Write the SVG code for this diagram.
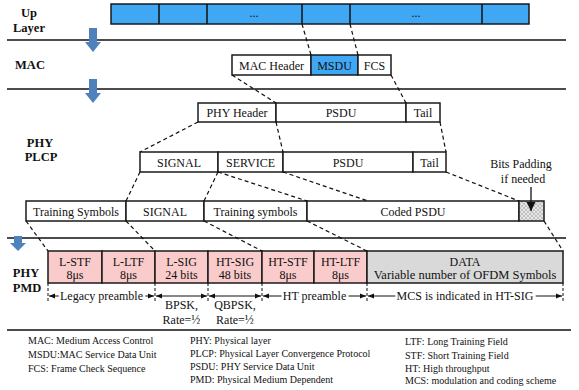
<svg xmlns="http://www.w3.org/2000/svg" width="579" height="390" viewBox="0 0 579 390">
<defs>
<style>
text{font-family:"Liberation Serif","Times New Roman",Tinos,"DejaVu Serif",serif}
.box{fill:#fff;stroke:#1a1a1a;stroke-width:1.5}
.blue{fill:#3fa7f3}
.pink{fill:#f9cbcb}
.grey{fill:#d9d9d9}
.t{font-size:12px;fill:#111;text-anchor:middle}
.h{font-size:12.5px;font-weight:bold;fill:#111;text-anchor:middle}
.lg{font-size:10px;fill:#111}
.dash{stroke:#111;stroke-width:1.2;stroke-dasharray:4 3;fill:none}
.sep{stroke:#111;stroke-width:1.5}
.arr{fill:#4f81bd}
.dim{stroke:#111;stroke-width:1;marker-start:url(#ah);marker-end:url(#ah)}
.tick{stroke:#111;stroke-width:1;stroke-dasharray:3 2}
.lab{paint-order:stroke;stroke:#fff;stroke-width:5px}
</style>
<marker id="ah" viewBox="0 0 6 6" refX="6" refY="3" markerWidth="6" markerHeight="6" orient="auto-start-reverse"><path d="M0,0.5 L6,3 L0,5.5 z" fill="#111"/></marker>
<marker id="ah2" viewBox="0 0 8 8" refX="8" refY="4" markerWidth="7" markerHeight="7" orient="auto"><path d="M0,0 L8,4 L0,8 z" fill="#111"/></marker>
<pattern id="hatch" width="4" height="4" patternUnits="userSpaceOnUse">
<rect width="4" height="4" fill="#e6e6e6"/>
<path d="M0,0 L4,4 M4,0 L0,4" stroke="#a8a8a8" stroke-width="0.6"/>
</pattern>
</defs>

<g id="separators">
<line class="sep" x1="7" y1="40" x2="566" y2="40"/>
<line class="sep" x1="7" y1="89" x2="566" y2="89"/>
<line class="sep" x1="7" y1="238" x2="566" y2="238"/>
<line class="sep" x1="7" y1="330" x2="571" y2="330"/>
</g>

<g id="layer-labels">
<text class="h" x="29" y="17">Up</text>
<text class="h" x="29" y="32">Layer</text>
<text class="h" x="30" y="69">MAC</text>
<text class="h" x="40" y="147">PHY</text>
<text class="h" x="41" y="161">PLCP</text>
<text class="h" x="26" y="277">PHY</text>
<text class="h" x="27" y="292">PMD</text>
</g>

<g id="down-arrows">
<path class="arr" d="M89,28 H97 V42 H101 L93,52 L85,42 H89 Z"/>
<path class="arr" d="M89,79 H97 V93 H101 L93,103 L85,93 H89 Z"/>
<path class="arr" d="M14,236 H22 V243 H26 L18,251 L10,243 H14 Z"/>
</g>

<g id="up-layer">
<rect class="box blue" x="111" y="4" width="418" height="20"/>
<line class="sep" x1="159" y1="4" x2="159" y2="24"/>
<line class="sep" x1="207" y1="4" x2="207" y2="24"/>
<line class="sep" x1="302" y1="4" x2="302" y2="24"/>
<line class="sep" x1="350" y1="4" x2="350" y2="24"/>
<line class="sep" x1="482" y1="4" x2="482" y2="24"/>
<text class="t" x="254" y="17">...</text>
<text class="t" x="416" y="17">...</text>
</g>

<g id="mac-frame">
<rect class="box" x="232" y="55" width="79" height="20"/>
<rect class="box blue" x="311" y="55" width="47" height="20"/>
<rect class="box" x="358" y="55" width="33" height="20"/>
<text class="t" x="271.5" y="69.5">MAC Header</text>
<text class="t" x="334.5" y="69.5">MSDU</text>
<text class="t" x="374.5" y="69.5">FCS</text>
</g>

<g id="phy-frame">
<rect class="box" x="198" y="103" width="78" height="19"/>
<rect class="box" x="276" y="103" width="130" height="19"/>
<rect class="box" x="406" y="103" width="34" height="19"/>
<text class="t" x="237" y="117">PHY Header</text>
<text class="t" x="341" y="117">PSDU</text>
<text class="t" x="423" y="117">Tail</text>
</g>

<g id="plcp-frame">
<rect class="box" x="140" y="152" width="78" height="20"/>
<rect class="box" x="218" y="152" width="65" height="20"/>
<rect class="box" x="283" y="152" width="130" height="20"/>
<rect class="box" x="413" y="152" width="33" height="20"/>
<text class="t" x="179" y="166.5">SIGNAL</text>
<text class="t" x="250.5" y="166.5">SERVICE</text>
<text class="t" x="348" y="166.5">PSDU</text>
<text class="t" x="429.5" y="166.5">Tail</text>
</g>

<g id="coded-frame">
<rect class="box" x="26" y="201" width="100" height="20"/>
<rect class="box" x="126" y="201" width="78" height="20"/>
<rect class="box" x="204" y="201" width="103" height="20"/>
<rect class="box" x="307" y="201" width="212" height="20"/>
<rect class="box" x="519" y="201" width="25" height="20" style="fill:url(#hatch)"/>
<text class="t" x="76" y="215.5">Training Symbols</text>
<text class="t" x="165" y="215.5">SIGNAL</text>
<text class="t" x="255.5" y="215.5">Training symbols</text>
<text class="t" x="413" y="215.5">Coded  PSDU</text>
</g>

<g id="bits-padding">
<text class="t" x="521" y="168">Bits Padding</text>
<text class="t" x="523" y="183">if needed</text>
<line x1="531" y1="187" x2="531" y2="211" stroke="#111" stroke-width="1.3" marker-end="url(#ah2)"/>
</g>

<g id="pmd-frame">
<rect class="box pink" x="48" y="251" width="54" height="32"/>
<rect class="box pink" x="102" y="251" width="53" height="32"/>
<rect class="box pink" x="155" y="251" width="53" height="32"/>
<rect class="box pink" x="208" y="251" width="54" height="32"/>
<rect class="box pink" x="262" y="251" width="52" height="32"/>
<rect class="box pink" x="314" y="251" width="53" height="32"/>
<rect class="box grey" x="367" y="251" width="196" height="32"/>
<text class="t" x="75" y="265.5">L-STF</text><text class="t" x="75" y="279">8μs</text>
<text class="t" x="128.5" y="265.5">L-LTF</text><text class="t" x="128.5" y="279">8μs</text>
<text class="t" x="181.5" y="265.5">L-SIG</text><text class="t" x="181.5" y="279">24 bits</text>
<text class="t" x="235" y="265.5">HT-SIG</text><text class="t" x="235" y="279">48 bits</text>
<text class="t" x="288" y="265.5">HT-STF</text><text class="t" x="288" y="279">8μs</text>
<text class="t" x="340.5" y="265.5">HT-LTF</text><text class="t" x="340.5" y="279">8μs</text>
<text class="t" x="465" y="265.5">DATA</text>
<text class="t" x="465" y="279" style="font-size:12.5px">Variable number of OFDM Symbols</text>
</g>

<g id="connectors">
<line class="dash" x1="302" y1="24" x2="311" y2="55"/>
<line class="dash" x1="350" y1="24" x2="358" y2="55"/>
<line class="dash" x1="232" y1="75" x2="276" y2="103"/>
<line class="dash" x1="391" y1="75" x2="406" y2="103"/>
<line class="dash" x1="198" y1="122" x2="140" y2="152"/>
<line class="dash" x1="276" y1="122" x2="283" y2="152"/>
<line class="dash" x1="440" y1="122" x2="446" y2="152"/>
<line class="dash" x1="140" y1="172" x2="126" y2="201"/>
<line class="dash" x1="218" y1="172" x2="204" y2="201"/>
<line class="dash" x1="218" y1="172" x2="307" y2="201"/>
<line class="dash" x1="283" y1="172" x2="368" y2="201"/>
<line class="dash" x1="446" y1="172" x2="519" y2="201"/>
<line class="dash" x1="26" y1="221" x2="48" y2="251"/>
<line class="dash" x1="126" y1="221" x2="155" y2="251"/>
<line class="dash" x1="204" y1="221" x2="262" y2="251"/>
<line class="dash" x1="307" y1="221" x2="367" y2="251"/>
<line class="dash" x1="544" y1="221" x2="563" y2="251"/>
</g>

<g id="durations">
<line class="tick" x1="48" y1="283" x2="48" y2="301"/>
<line class="tick" x1="155" y1="283" x2="155" y2="301"/>
<line class="tick" x1="208" y1="283" x2="208" y2="301"/>
<line class="tick" x1="262" y1="283" x2="262" y2="301"/>
<line class="tick" x1="367" y1="283" x2="367" y2="301"/>
<line class="tick" x1="563" y1="283" x2="563" y2="301"/>
<line class="dim" x1="49" y1="296" x2="154" y2="296"/>
<line class="dim" x1="156" y1="296" x2="207" y2="296"/>
<line class="dim" x1="209" y1="296" x2="261" y2="296"/>
<line class="dim" x1="263" y1="296" x2="366" y2="296"/>
<line class="dim" x1="368" y1="296" x2="562" y2="296"/>
<text class="t lab" x="101.5" y="300">Legacy preamble</text>
<text class="t lab" x="314.5" y="300">HT preamble</text>
<text class="t lab" x="465" y="300">MCS is indicated in HT-SIG</text>
<text class="t" x="181.5" y="309">BPSK,</text>
<text class="t" x="181.5" y="324">Rate=½</text>
<text class="t" x="235" y="309">QBPSK,</text>
<text class="t" x="235" y="324">Rate=½</text>
</g>

<g id="legend">
<text class="lg" x="28" y="344">MAC: Medium Access Control</text>
<text class="lg" x="28" y="358">MSDU:MAC Service Data Unit</text>
<text class="lg" x="28" y="372">FCS: Frame Check Sequence</text>
<text class="lg" x="190" y="344">PHY: Physical layer</text>
<text class="lg" x="190" y="356.5">PLCP: Physical Layer Convergence Protocol</text>
<text class="lg" x="190" y="369.5">PSDU: PHY Service Data Unit</text>
<text class="lg" x="190" y="382.5">PMD: Physical Medium Dependent</text>
<text class="lg" x="405" y="345">LTF: Long Training Field</text>
<text class="lg" x="405" y="358.5">STF: Short Training Field</text>
<text class="lg" x="405" y="371.5">HT: High throughput</text>
<text class="lg" x="405" y="383.5">MCS: modulation and coding  scheme</text>
</g>
</svg>
